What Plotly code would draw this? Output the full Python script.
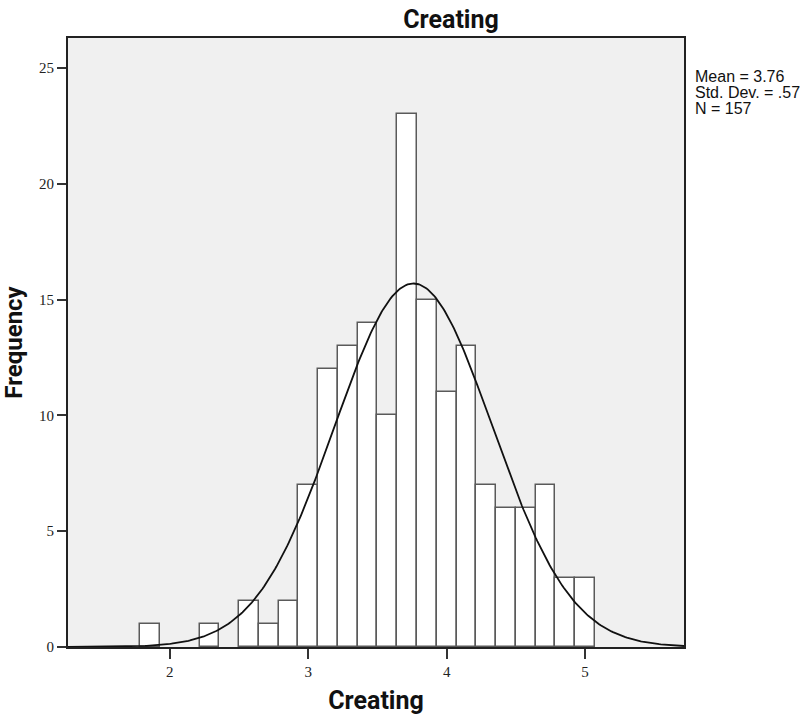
import numpy as np
import plotly.graph_objects as go

# Bin centres (scores are averages of 7 items -> multiples of 1/7)
bin_numerators = [13, 16, 18, 19, 20, 21, 22, 23, 24, 25, 26, 27, 28, 29, 30, 31, 32, 33, 34, 35]
bin_denominator = 7
frequencies = [1, 1, 2, 1, 2, 7, 12, 13, 14, 10, 23, 15, 11, 13, 7, 6, 6, 7, 3, 3]
MEAN = 3.76
SD = 0.57
N = 157
x_ticks = [2, 3, 4, 5]
y_ticks = [0, 5, 10, 15, 20, 25]
X_RANGE = [1.264, 5.715]
Y_RANGE = [0, 26.3]
stats_lines = [f"Mean = {MEAN:.2f}", "Std. Dev. = .57", f"N = {N}"]

bin_width = 1 / bin_denominator
centers = [n / bin_denominator for n in bin_numerators]

fig = go.Figure()
fig.add_trace(go.Bar(
    x=centers, y=frequencies, width=bin_width,
    marker=dict(color="white", line=dict(color="#5a5a5a", width=1.5)),
    showlegend=False, hoverinfo="x+y",
))

xs = np.linspace(X_RANGE[0], X_RANGE[1], 400)
ys = N * bin_width / (SD * np.sqrt(2 * np.pi)) * np.exp(-0.5 * ((xs - MEAN) / SD) ** 2)
fig.add_trace(go.Scatter(x=xs, y=ys, mode="lines",
                         line=dict(color="#111111", width=1.8), showlegend=False))

tick_font = dict(family="Liberation Serif, Times New Roman, serif", size=15, color="#222")
title_font = dict(family="Roboto, Open Sans, sans-serif", size=25, color="#111")
fig.update_xaxes(range=X_RANGE, tickvals=x_ticks, ticks="outside", ticklen=10, tickwidth=1.5,
                 tickcolor="#333", showline=True, linecolor="#222", linewidth=2, mirror=True,
                 showgrid=False, zeroline=False, tickfont=tick_font, automargin=False,
                 title=dict(text="<b>Creating</b>", font=title_font, standoff=14))
fig.update_yaxes(range=Y_RANGE, tickvals=y_ticks, ticks="outside", ticklen=9, tickwidth=1.5,
                 tickcolor="#333", showline=True, linecolor="#222", linewidth=2, mirror=True,
                 showgrid=False, zeroline=False, tickfont=tick_font, automargin=False,
                 title=dict(text="<b>Frequency</b>", font=dict(title_font, size=24), standoff=11))

stat_y = [76, 92.5, 109]
annotations = [dict(text=t, xref="paper", yref="paper", x=(693 - 68) / 616,
                    y=(647 - yy) / 609, xanchor="left", yanchor="middle", align="left",
                    showarrow=False,
                    font=dict(family="Liberation Sans, Arial, sans-serif", size=16, color="#111"))
               for t, yy in zip(stats_lines, stat_y)]

fig.update_layout(
    width=806, height=715,
    margin=dict(l=68, r=122, t=38, b=68),
    paper_bgcolor="white", plot_bgcolor="#f0f0f0",
    bargap=0,
    title=dict(text="<b>Creating</b>", x=451 / 806, xref="container", xanchor="center",
               y=1 - 19 / 715, yref="container", yanchor="middle", font=title_font,
               automargin=False),
    annotations=annotations,
)

fig.write_html("out.html")
